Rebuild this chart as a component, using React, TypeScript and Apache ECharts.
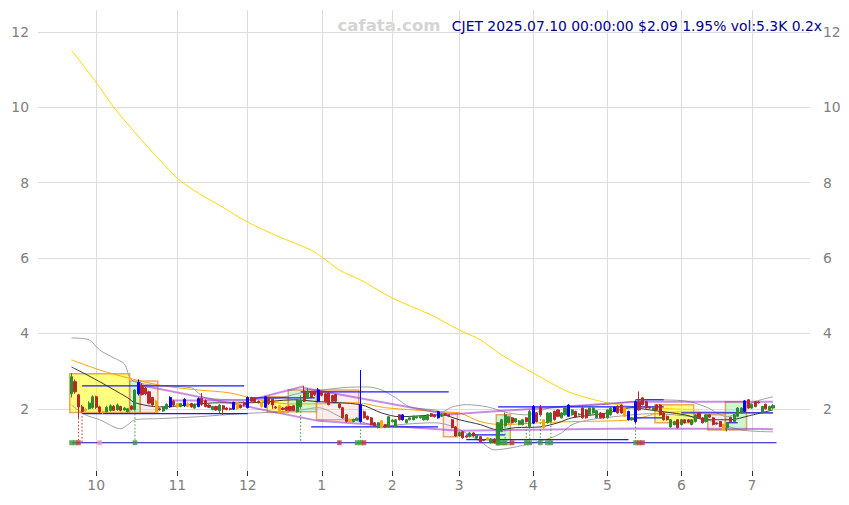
import React, { useEffect, useRef } from 'react';
import * as echarts from 'echarts';

const LEAD = 9;
const SLOTS = 219;
const Y_MIN = 0.35;
const Y_MAX = 12.58;

const monthTicks: [number, string][] = [
  [7, '10'], [30, '11'], [50, '12'], [71, '1'], [91, '2'],
  [110, '3'], [131, '4'], [152, '5'], [173, '6'], [193, '7'],
];

// [open, close, low, high, kind]  kind: '' normal, 'b' blue, 'o' orange
const candles: [number, number, number, number, string][] = [
  [2.40, 2.85, 2.30, 2.95, ''], [2.72, 2.45, 2.40, 2.78, ''], [2.37, 2.05, 1.76, 2.40, ''], [2.05, 1.93, 1.90, 2.10, ''],
  [1.95, 1.98, 1.92, 2.02, 'o'], [2.00, 2.15, 1.98, 2.20, ''], [2.03, 2.32, 2.00, 2.36, ''], [2.32, 2.04, 2.00, 2.35, ''],
  [2.05, 1.92, 1.88, 2.08, ''], [1.93, 1.90, 1.86, 1.96, 'o'], [1.92, 2.04, 1.90, 2.08, ''], [1.95, 2.08, 1.93, 2.12, ''],
  [2.06, 1.96, 1.94, 2.10, ''], [1.97, 2.10, 1.95, 2.14, ''], [2.06, 1.96, 1.93, 2.08, ''], [1.97, 2.02, 1.95, 2.05, ''],
  [1.92, 2.00, 1.90, 2.02, ''], [2.07, 1.99, 1.96, 2.10, ''], [1.98, 2.50, 1.96, 2.52, ''], [2.40, 2.70, 2.35, 2.78, 'b'],
  [2.62, 2.38, 2.35, 2.68, ''], [2.55, 2.40, 2.36, 2.60, ''], [2.45, 2.15, 2.12, 2.48, ''], [2.30, 2.10, 2.08, 2.32, ''],
  [2.20, 1.93, 1.90, 2.24, 'o'], [2.00, 1.98, 1.95, 2.03, ''], [1.94, 2.05, 1.92, 2.07, ''], [2.00, 2.12, 1.98, 2.15, ''],
  [2.05, 2.30, 2.03, 2.33, 'b'], [2.20, 2.10, 2.06, 2.24, ''], [2.14, 2.05, 2.03, 2.16, 'o'], [2.06, 2.14, 2.04, 2.16, ''],
  [2.08, 2.25, 2.05, 2.28, 'b'], [2.14, 2.06, 2.04, 2.18, 'o'], [2.14, 2.05, 2.03, 2.16, ''], [2.02, 2.12, 2.00, 2.14, ''],
  [2.06, 2.27, 2.04, 2.30, 'b'], [2.28, 2.12, 2.08, 2.42, ''], [2.22, 2.06, 2.04, 2.25, ''], [2.10, 2.04, 2.02, 2.12, ''],
  [1.98, 2.06, 1.96, 2.08, ''], [2.06, 1.97, 1.95, 2.08, ''], [1.95, 2.10, 1.88, 2.12, ''], [2.08, 1.99, 1.84, 2.10, ''],
  [2.02, 1.98, 1.96, 2.04, ''], [2.01, 1.98, 1.96, 2.03, ''], [1.99, 2.17, 1.97, 2.19, 'b'], [2.16, 2.00, 1.98, 2.18, 'o'],
  [2.09, 2.03, 2.01, 2.11, ''], [2.16, 2.10, 2.06, 2.19, ''], [2.03, 2.30, 2.01, 2.33, 'b'], [2.30, 2.20, 2.17, 2.32, ''],
  [2.28, 2.19, 2.16, 2.30, ''], [2.20, 2.16, 2.14, 2.22, ''], [2.16, 2.06, 2.03, 2.18, 'o'], [2.04, 2.32, 2.02, 2.34, 'b'],
  [2.30, 2.14, 2.10, 2.32, ''], [2.25, 2.10, 2.00, 2.27, ''], [2.05, 2.02, 2.00, 2.07, ''], [2.08, 1.90, 1.88, 2.10, 'o'],
  [2.02, 1.98, 1.96, 2.04, ''], [2.05, 1.96, 1.94, 2.07, ''], [2.06, 1.96, 1.94, 2.08, ''], [2.08, 1.96, 1.94, 2.10, ''],
  [1.92, 2.24, 1.90, 2.26, ''], [2.05, 2.22, 2.03, 2.36, ''], [2.47, 2.20, 2.18, 2.60, ''], [2.28, 2.45, 2.26, 2.55, ''],
  [2.44, 2.30, 2.28, 2.47, ''], [2.45, 2.38, 2.34, 2.48, ''], [2.19, 2.50, 2.17, 2.55, 'b'], [2.45, 2.36, 2.33, 2.48, ''],
  [2.40, 2.19, 2.17, 2.43, ''], [2.42, 2.11, 2.09, 2.45, ''], [2.35, 2.20, 2.18, 2.37, ''], [2.38, 2.20, 2.18, 2.40, ''],
  [2.13, 2.03, 2.01, 2.15, ''], [2.03, 1.76, 1.74, 2.05, ''], [1.84, 1.66, 1.64, 1.86, ''], [1.72, 1.66, 1.64, 1.74, 'o'],
  [1.66, 1.72, 1.64, 1.74, ''], [1.70, 1.75, 1.68, 1.77, ''], [1.66, 2.11, 1.64, 3.03, 'b'], [1.92, 1.76, 1.74, 1.95, ''],
  [1.80, 1.72, 1.70, 1.82, ''], [1.76, 1.58, 1.56, 1.78, ''], [1.63, 1.55, 1.53, 1.65, ''], [1.50, 1.63, 1.48, 1.65, ''],
  [1.68, 1.50, 1.48, 1.70, 'o'], [1.58, 1.52, 1.50, 1.60, ''], [1.52, 1.79, 1.50, 1.81, ''], [1.66, 1.70, 1.64, 1.72, ''],
  [1.52, 1.71, 1.50, 1.73, ''], [1.84, 1.71, 1.69, 1.86, ''], [1.71, 1.84, 1.69, 1.86, 'b'], [1.63, 1.71, 1.61, 1.73, ''],
  [1.71, 1.76, 1.69, 1.78, ''], [1.71, 1.80, 1.69, 1.82, ''], [1.76, 1.79, 1.74, 1.81, ''], [1.76, 1.80, 1.74, 1.82, ''],
  [1.71, 1.80, 1.69, 1.82, ''], [1.71, 1.84, 1.69, 1.86, ''], [1.87, 1.80, 1.78, 1.89, ''], [1.84, 1.79, 1.77, 1.86, ''],
  [1.76, 1.92, 1.74, 1.94, 'b'], [1.80, 1.86, 1.78, 1.88, ''], [1.87, 1.84, 1.82, 1.89, ''], [1.84, 1.82, 1.80, 1.86, ''],
  [1.71, 1.50, 1.48, 1.73, ''], [1.52, 1.28, 1.26, 1.54, ''], [1.28, 1.37, 1.26, 1.39, ''], [1.39, 1.23, 1.21, 1.41, ''],
  [1.28, 1.25, 1.23, 1.30, ''], [1.26, 1.36, 1.24, 1.38, ''], [1.36, 1.28, 1.26, 1.38, ''], [1.22, 1.30, 1.20, 1.32, ''],
  [1.26, 1.13, 1.11, 1.28, ''], [1.18, 1.16, 1.14, 1.20, ''], [1.23, 1.18, 1.16, 1.25, 'o'], [1.10, 1.20, 1.08, 1.22, ''],
  [1.20, 1.10, 1.08, 1.22, ''], [1.05, 1.63, 1.03, 1.65, ''], [1.40, 1.71, 1.38, 1.73, ''], [1.55, 1.84, 1.53, 1.90, ''],
  [1.63, 1.79, 1.61, 1.81, ''], [1.76, 1.63, 1.61, 1.78, ''], [1.65, 1.74, 1.63, 1.76, ''], [1.58, 1.68, 1.56, 1.70, ''],
  [1.58, 1.71, 1.56, 1.73, ''], [1.76, 1.66, 1.64, 1.78, ''], [1.53, 1.93, 1.51, 1.97, ''], [1.62, 2.06, 1.60, 2.10, 'b'],
  [1.89, 1.66, 1.64, 1.91, ''], [2.05, 1.84, 1.82, 2.10, ''], [1.71, 1.50, 1.47, 1.73, 'o'], [1.63, 1.89, 1.61, 1.91, ''],
  [1.66, 1.89, 1.64, 1.91, ''], [1.93, 1.71, 1.69, 1.95, ''], [1.97, 1.80, 1.78, 1.99, ''], [1.76, 1.89, 1.74, 1.91, ''],
  [1.84, 2.02, 1.82, 2.04, ''], [1.80, 2.10, 1.78, 2.12, 'b'], [1.84, 1.97, 1.82, 1.99, ''], [1.93, 1.78, 1.76, 1.95, ''],
  [1.84, 1.86, 1.82, 1.88, ''], [2.02, 1.76, 1.74, 2.04, ''], [1.97, 1.76, 1.74, 1.99, ''], [1.84, 2.02, 1.82, 2.04, ''],
  [1.89, 2.02, 1.87, 2.04, ''], [1.76, 1.95, 1.74, 1.97, ''], [1.89, 1.76, 1.74, 1.91, ''], [1.87, 1.76, 1.74, 1.89, ''],
  [1.76, 1.97, 1.74, 1.99, ''], [1.84, 2.02, 1.82, 2.04, ''], [1.93, 2.04, 1.91, 2.06, 'b'], [2.07, 1.89, 1.87, 2.09, ''],
  [2.10, 1.89, 1.87, 2.12, ''], [2.02, 1.80, 1.78, 2.04, 'o'], [1.71, 1.93, 1.69, 1.95, 'b'], [1.71, 1.76, 1.69, 1.78, ''],
  [1.66, 2.19, 1.62, 2.22, 'b'], [2.19, 1.97, 1.95, 2.46, ''], [2.29, 2.11, 2.09, 2.31, ''], [2.19, 2.02, 2.00, 2.21, ''],
  [2.04, 2.02, 2.00, 2.06, ''], [1.97, 2.02, 1.95, 2.04, ''], [2.10, 1.97, 1.95, 2.12, ''], [2.10, 1.84, 1.82, 2.12, ''],
  [1.89, 1.71, 1.69, 1.91, ''], [1.80, 1.71, 1.69, 1.82, ''], [1.52, 1.71, 1.50, 1.73, ''], [1.58, 1.66, 1.56, 1.68, ''],
  [1.71, 1.50, 1.48, 1.73, ''], [1.58, 1.71, 1.56, 1.73, ''], [1.71, 1.63, 1.61, 1.73, ''], [1.71, 1.65, 1.63, 1.73, ''],
  [1.58, 1.71, 1.56, 1.73, ''], [1.66, 1.84, 1.64, 1.86, ''], [1.89, 1.76, 1.74, 1.91, ''], [1.76, 1.63, 1.61, 1.78, ''],
  [1.66, 1.84, 1.64, 1.86, ''], [1.84, 1.78, 1.76, 1.86, ''], [1.76, 1.58, 1.56, 1.78, ''], [1.62, 1.60, 1.58, 1.64, ''],
  [1.66, 1.53, 1.51, 1.68, ''], [1.58, 1.44, 1.42, 1.60, 'o'], [1.50, 1.63, 1.40, 1.65, ''], [1.77, 1.66, 1.64, 1.79, ''],
  [1.66, 1.84, 1.64, 1.86, ''], [1.80, 2.02, 1.78, 2.04, ''], [1.89, 2.02, 1.87, 2.04, ''], [1.93, 2.21, 1.91, 2.23, 'b'],
  [2.24, 2.02, 2.00, 2.26, ''], [2.02, 2.12, 2.00, 2.14, ''], [2.19, 2.06, 2.04, 2.21, ''], [2.18, 2.16, 2.14, 2.20, ''],
  [1.89, 2.06, 1.87, 2.08, ''], [2.12, 2.00, 1.98, 2.14, ''], [1.97, 2.06, 1.95, 2.08, ''], [2.02, 2.09, 2.00, 2.12, ''],
];

// overlay lines read at knots: [tradingDayIndex, value]
const longMA: [number, number][] = [
  [0, 11.51], [7, 10.66], [12, 10.0], [17, 9.44], [22, 8.91], [30, 8.12], [36, 7.72], [42, 7.40], [50, 6.95],
  [59, 6.56], [68, 6.21], [71, 6.03], [76, 5.68], [82, 5.42], [91, 4.94], [102, 4.49], [110, 4.09], [116, 3.83],
  [122, 3.43], [131, 2.95], [141, 2.45], [152, 2.16], [161, 2.05], [178, 1.97],
];
const blackMA: [number, number][] = [
  [0, 3.11], [7, 2.77], [16, 2.29], [18, 2.16], [25, 2.05], [42, 2.16], [51, 2.16], [63, 2.24], [70, 2.19],
  [82, 2.11], [88, 1.89], [93, 1.79], [105, 1.84], [110, 1.71], [116, 1.58], [121, 1.44], [126, 1.50], [133, 1.52],
  [138, 1.63], [142, 1.76], [152, 1.89], [159, 2.03], [164, 1.97], [174, 1.84], [180, 1.71], [187, 1.71], [192, 1.81], [199, 1.97],
];
const orangeMA: [number, number][] = [
  [0, 3.30], [8, 3.03], [16, 2.82], [26, 2.61], [36, 2.50], [45, 2.42], [53, 2.24], [62, 2.13], [70, 2.13],
  [81, 2.16], [89, 2.03], [105, 1.92], [110, 1.89], [116, 1.66], [122, 1.58], [133, 1.63], [142, 1.66], [159, 1.71],
  [167, 1.89], [178, 1.92], [199, 1.89],
];
const bandUpper: [number, number][] = [
  [0, 3.88], [5, 3.83], [8, 3.56], [12, 3.35], [15, 3.19], [17, 2.77], [22, 2.64], [34, 2.56], [36, 2.42], [38, 2.29],
  [48, 2.24], [59, 2.29], [65, 2.42], [77, 2.56], [84, 2.58], [88, 2.50], [92, 2.29], [96, 2.05], [103, 1.97], [105, 1.92],
  [108, 2.05], [112, 2.11], [118, 2.05], [124, 1.89], [129, 1.84], [136, 2.03], [150, 2.11], [159, 2.19], [164, 2.24],
  [174, 2.21], [180, 2.05], [186, 1.79], [193, 2.16], [199, 2.32],
];
const bandLower: [number, number][] = [
  [0, 2.10], [4, 1.84], [8, 1.71], [14, 1.47], [16, 1.58], [18, 1.71], [25, 1.74], [36, 1.79], [48, 1.87], [59, 1.92],
  [65, 1.97], [70, 2.03], [77, 1.76], [82, 1.66], [88, 1.52], [93, 1.58], [103, 1.63], [109, 1.50], [116, 1.13],
  [120, 0.91], [125, 0.97], [131, 1.10], [136, 1.23], [139, 1.36], [142, 1.58], [147, 1.71], [156, 1.81], [164, 1.87],
  [178, 1.76], [190, 1.44], [199, 1.39],
];
const purpleLines: [number, number][][] = [
  [[19, 2.64], [70, 1.68]],
  [[28, 2.22], [50, 2.22], [66, 2.60]],
  [[66, 2.55], [106, 1.87]],
  [[70, 1.68], [110, 1.42]],
  [[106, 1.84], [160, 2.19], [199, 2.19]],
  [[110, 1.42], [160, 1.48], [199, 1.46]],
];
// [fromIndex, toIndex, level]
const blueLevels: [number, number, number][] = [
  [3, 49, 2.61], [3, 50, 1.87], [51, 69, 2.29], [65, 107, 2.45], [68, 104, 1.52], [121, 168, 2.05],
  [112, 123, 1.31], [112, 158, 1.18], [160, 168, 2.24], [160, 168, 1.76], [173, 199, 1.89], [186, 189, 1.63],
];
// [firstIndex, lastIndex, top, bottom, kind]
const boxes: [number, number, number, number, string][] = [
  [0, 16, 2.93, 1.90, 'y'], [17, 19, 2.74, 1.90, 'g'], [20, 24, 2.74, 1.90, 'p'],
  [56, 61, 2.32, 1.90, 'y'], [62, 69, 2.50, 1.92, 'g'], [70, 81, 2.50, 1.71, 'p'],
  [106, 109, 1.89, 1.26, 'p'], [121, 124, 1.84, 1.05, 'g'], [166, 176, 2.11, 1.63, 'y'],
  [181, 185, 1.84, 1.44, 'p'], [186, 191, 2.19, 1.44, 'g'],
];
const baseLevel = 1.10;
const baseSpan: [number, number] = [0, 200];
const signalMarks: [number, string][] = [
  [0, 'g'], [1, 'g'], [2, 'r'], [8, 'p'], [18, 'g'], [76, 'r'], [81, 'g'], [82, 'g'], [83, 'r'],
  [121, 'g'], [122, 'g'], [123, 'g'], [125, 'r'], [129, 'g'], [130, 'g'], [133, 'g'], [135, 'g'], [136, 'g'],
  [160, 'g'], [161, 'r'], [162, 'r'],
];
const signalDrops: [number, number, string][] = [
  [2, 1.76, 'r'], [3, 1.90, 'r'], [18, 1.96, 'g'], [65, 2.03, 'g'], [82, 1.64, 'g'], [121, 1.03, 'g'],
  [123, 1.53, 'g'], [129, 1.64, 'g'], [130, 1.51, 'g'], [133, 1.82, 'g'], [136, 1.64, 'g'], [160, 1.62, 'g'],
];

const TITLE = 'CJET 2025.07.10 00:00:00 $2.09 1.95% vol:5.3K 0.2x';
const WATERMARK = 'cafata.com';

const UP = '#2e8b2e';
const DOWN = '#b82828';
const SPECIAL: Record<string, string> = { b: '#0000ff', o: '#ffa500' };
const BOX_FILL: Record<string, string> = { y: 'rgba(255,255,0,0.5)', g: 'rgba(144,238,144,0.45)', p: 'rgba(250,200,200,0.35)' };
const MARK: Record<string, string> = { g: '#3c9a3c', r: '#c03838', p: '#e8a0a0' };

const FONT = 'DejaVu Sans';

export default function App() {
  const ref = useRef<HTMLDivElement>(null);
  useEffect(() => {
    document.body.style.margin = '0';
    if (!ref.current) return;
    const chart = echarts.init(ref.current, undefined, { renderer: 'svg' });
    const slots = Array.from({ length: SLOTS }, (_, k) => String(k));
    const tickMap = new Map<number, string>(monthTicks.map(([i, l]) => [i + LEAD, l]));
    const isTick = (idx: number) => tickMap.has(idx);
    const shift = (pts: [number, number][]) => pts.map(([i, v]) => [i + LEAD, v]);
    const lineSeries = (pts: [number, number][], color: string, width: number, z = 2, opacity = 1, smooth: number | boolean = false) => ({
      type: 'line', data: shift(pts), symbol: 'none', silent: true, z, smooth,
      lineStyle: { color, width, opacity }, itemStyle: { color },
    });

    const padded: any[] = Array.from({ length: SLOTS }, () => '-');
    candles.forEach(([o, c, l, h, k], i) => {
      if (k && SPECIAL[k]) {
        const col = SPECIAL[k];
        padded[i + LEAD] = { value: [o, c, l, h], itemStyle: { color: col, color0: col, borderColor: col, borderColor0: col } };
      } else {
        padded[i + LEAD] = [o, c, l, h];
      }
    });

    const option: any = {
      animation: false,
      grid: { left: 38, right: 39, top: 10, bottom: 34, containLabel: false },
      xAxis: {
        type: 'category', data: slots, boundaryGap: true,
        axisLine: { show: false },
        axisTick: { show: true, interval: isTick, alignWithLabel: true, length: 5, lineStyle: { color: '#333' } },
        axisLabel: {
          interval: isTick, formatter: (_v: string, idx: number) => tickMap.get(idx) || '',
          color: '#808080', fontSize: 13.9, fontFamily: FONT, margin: 7,
        },
        splitLine: { show: true, interval: isTick, alignWithLabel: true, lineStyle: { color: '#dcdcdc', width: 1 } },
      },
      yAxis: [
        {
          type: 'value', min: Y_MIN, max: Y_MAX, splitNumber: 6, position: 'left',
          axisLine: { show: false }, axisTick: { show: false },
          axisLabel: { formatter: (v: number) => (Number.isInteger(v) ? String(v) : ''), color: '#808080', fontSize: 13.9, fontFamily: FONT, margin: 9 },
          splitLine: { show: true, showMinLine: false, showMaxLine: false, lineStyle: { color: '#dcdcdc', width: 1 } },
        },
        {
          type: 'value', min: Y_MIN, max: Y_MAX, splitNumber: 6, position: 'right',
          axisLine: { show: false }, axisTick: { show: false },
          axisLabel: { formatter: (v: number) => (Number.isInteger(v) ? String(v) : ''), color: '#808080', fontSize: 13.9, fontFamily: FONT, margin: 13 },
          splitLine: { show: false },
        },
      ],
      graphic: [
        { type: 'text', x: 389, y: 25, z: 0, style: { text: WATERMARK, fill: '#d4d4d4', font: `bold 16.5px "${FONT}"`, textAlign: 'center', textVerticalAlign: 'middle' } },
        { type: 'text', x: 822, y: 26, z: 10, style: { text: TITLE, fill: '#00008b', font: `13.9px "${FONT}"`, textAlign: 'right', textVerticalAlign: 'middle' } },
      ],
      series: [
        {
          type: 'custom', silent: true, z: 1,
          data: boxes.map(([a, b, t, bt]) => [a + LEAD, b + LEAD, t, bt]),
          encode: { x: 0, y: 2 },
          renderItem: (params: any, api: any) => {
            const kind = boxes[params.dataIndex][4];
            const p0 = api.coord([api.value(0), api.value(2)]);
            const p1 = api.coord([api.value(1), api.value(3)]);
            const half = api.size([1, 0])[0] / 2;
            return {
              type: 'rect',
              shape: { x: p0[0] - half, y: p0[1], width: p1[0] - p0[0] + 2 * half, height: p1[1] - p0[1] },
              style: { fill: BOX_FILL[kind], stroke: 'rgba(222,140,60,0.75)', lineWidth: 1.5 },
            };
          },
        },
        lineSeries(bandUpper, '#a0a0a0', 1, 2, 1, 0.3),
        lineSeries(bandLower, '#a0a0a0', 1, 2, 1, 0.3),
        lineSeries(longMA, '#ffd700', 1, 2, 1, 0.3),
        lineSeries(orangeMA, '#ffa500', 1, 2, 1, 0.3),
        lineSeries(blackMA, '#222222', 0.9, 2, 1, 0.3),
        ...purpleLines.map((pts) => lineSeries(pts, '#9932cc', 2, 3, 0.55)),
        {
          type: 'custom', silent: true, z: 4,
          data: blueLevels.map(([a, b, v]) => [a + LEAD, b + LEAD, v]),
          encode: { x: 0, y: 2 },
          renderItem: (params: any, api: any) => {
            const p0 = api.coord([api.value(0), api.value(2)]);
            const p1 = api.coord([api.value(1), api.value(2)]);
            return { type: 'line', shape: { x1: p0[0], y1: p0[1], x2: p1[0], y2: p1[1] }, style: { stroke: '#1a1aff', lineWidth: 1.2 } };
          },
        },
        lineSeries([[baseSpan[0], baseLevel], [baseSpan[1], baseLevel]], '#1010c0', 1.2, 4),
        {
          type: 'custom', silent: true, z: 4,
          data: signalDrops.map(([i, v]) => [i + LEAD, v]),
          encode: { x: 0, y: 1 },
          renderItem: (params: any, api: any) => {
            const kind = signalDrops[params.dataIndex][2];
            const p0 = api.coord([api.value(0), api.value(1)]);
            const p1 = api.coord([api.value(0), baseLevel]);
            return { type: 'line', shape: { x1: p0[0], y1: p0[1], x2: p1[0], y2: p1[1] }, style: { stroke: MARK[kind], lineWidth: 1, lineDash: [1.5, 2] } };
          },
        },
        {
          type: 'candlestick', z: 5, barWidth: 2.6, data: padded,
          itemStyle: { color: UP, color0: DOWN, borderColor: UP, borderColor0: DOWN, borderWidth: 1 },
        },
        {
          type: 'scatter', z: 6, silent: true, symbol: 'rect', symbolSize: [4.5, 5],
          data: signalMarks.map(([i, k]) => ({ value: [i + LEAD, baseLevel], itemStyle: { color: MARK[k] } })),
        },
      ],
    };
    chart.setOption(option);
    return () => chart.dispose();
  }, []);
  return <div ref={ref} style={{ width: 849, height: 505 }} />;
}
